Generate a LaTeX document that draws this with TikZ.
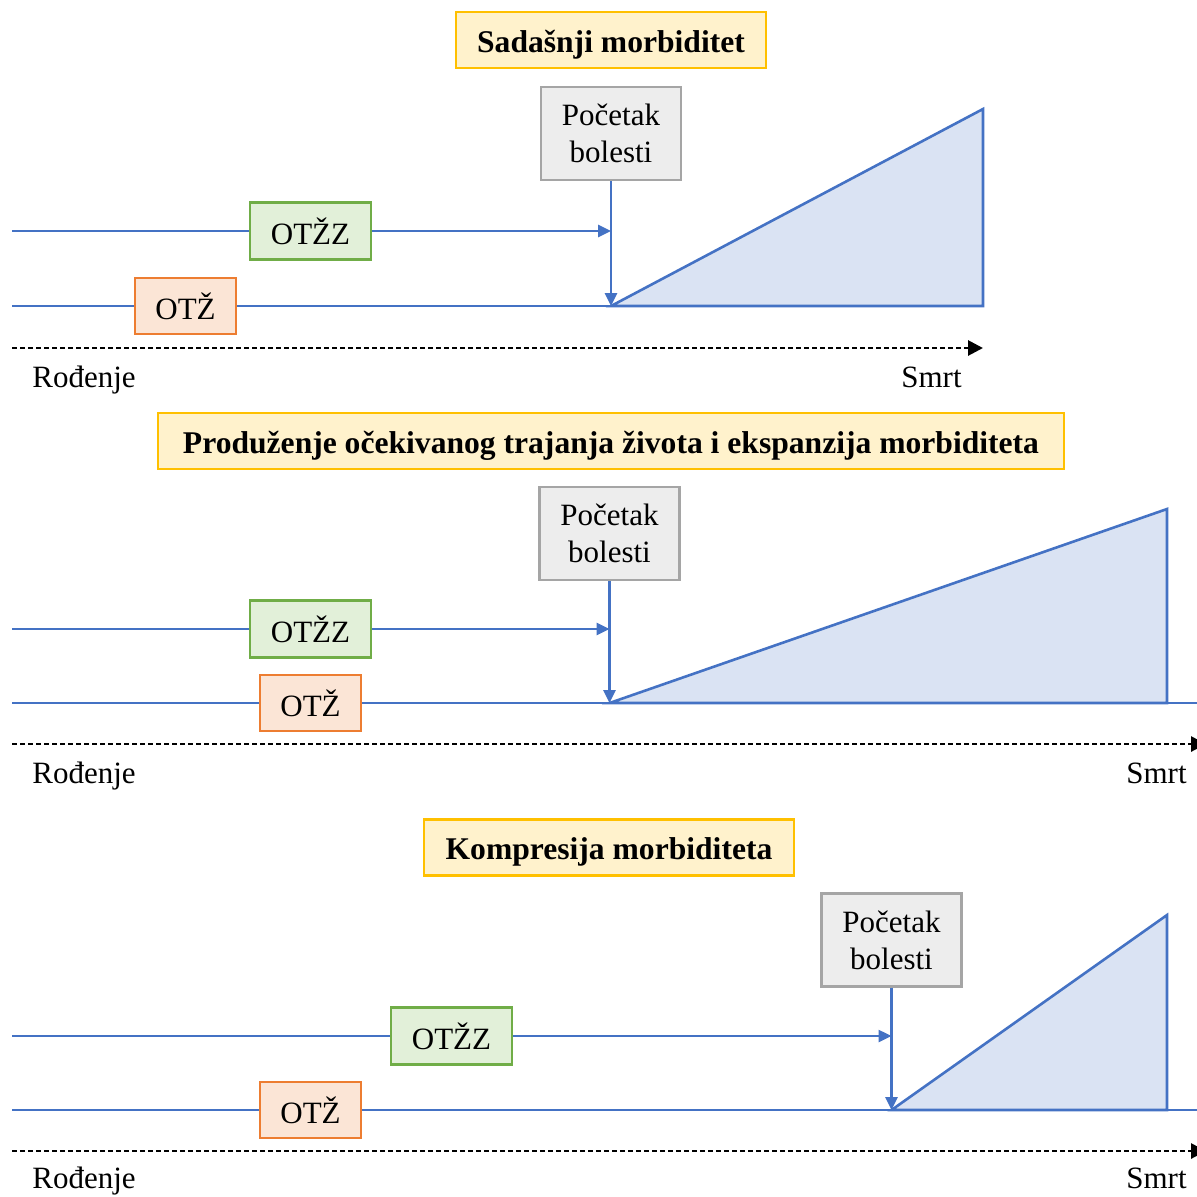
\documentclass[tikz,border=0pt]{standalone}
\usepackage{fontspec}
\setmainfont{Liberation Serif}
\usetikzlibrary{arrows.meta}
\definecolor{lineblue}{HTML}{4472C4}
\definecolor{morbfill}{HTML}{DAE3F3}
\definecolor{titlegold}{HTML}{FFC000}
\definecolor{titlefill}{HTML}{FFF2CC}
\definecolor{onsetgray}{HTML}{A5A5A5}
\definecolor{onsetfill}{HTML}{EDEDED}
\definecolor{healthgreen}{HTML}{70AD47}
\definecolor{healthfill}{HTML}{E2F0D9}
\definecolor{lifeorange}{HTML}{ED7D31}
\definecolor{lifefill}{HTML}{FBE5D6}

\begin{document}
\begin{tikzpicture}[
		x=0.5pt,y=-0.5pt,
		every node/.style={font=\fontsize{15.5}{18.5}\selectfont,inner sep=0pt},
		titlebox/.style={draw=titlegold,fill=titlefill,line width=1.2pt,minimum height=28pt,text height=12pt,text depth=0pt,font=\fontsize{15.8}{18.5}\selectfont\bfseries},
		onsetbox/.style={draw=onsetgray,fill=onsetfill,line width=1.2pt,minimum width=70pt,minimum height=46.5pt,align=center},
		healthbox/.style={draw=healthgreen,fill=healthfill,line width=1.2pt,minimum width=60.5pt,minimum height=28.5pt},
		lifebox/.style={draw=lifeorange,fill=lifefill,line width=1.2pt,minimum width=50.5pt,minimum height=28pt},
		timeline/.style={lineblue,line width=1.3pt},
		onsetarrow/.style={timeline,-{Triangle[length=6.5pt,width=6pt]}},
		morbidity/.style={draw=lineblue,fill=morbfill,line width=1.3pt},
		lifeaxis/.style={black,line width=1.4pt,dash pattern=on 2.6pt off 1.4pt,-{Triangle[length=7.5pt,width=7.5pt]}}
		]
		\useasboundingbox (0,0) rectangle (1197,1196);
		\clip (0,0) rectangle (1197,1196);
		
		\node[titlebox,minimum width=155pt] (title1) at (611,40) {Sadašnji morbiditet};
		\node[onsetbox] (onset1) at (611,133.5) {Početak\\bolesti};
		\node[healthbox] (health1) at (310.5,231) {OTŽZ};
		\node[lifebox] (life1) at (185.5,306) {OTŽ};
		\coordinate (hstart1) at (12,231);
		\coordinate (lstart1) at (12,306);
		\coordinate (hit1) at (611,231);
		\coordinate (sick1) at (611,306);
		\coordinate (peak1) at (983,109);
		\coordinate (end1) at (983,306);
		\coordinate (birth1) at (12,348);
		\coordinate (death1) at (983,348);
		\draw[morbidity] (sick1) -- (peak1) -- (end1) -- cycle;
		\draw[timeline] (hstart1) -- (health1);
		\draw[onsetarrow] (health1) -- (hit1);
		\draw[timeline] (lstart1) -- (life1);
		\draw[timeline] (life1) -- (sick1);
		\draw[onsetarrow] (onset1) -- (sick1);
		\draw[lifeaxis] (birth1) -- (death1);
		\node[anchor=base west] (born1) at (32,387) {Rođenje};
		\node[anchor=base east] (died1) at (962,387) {Smrt};
		
		\node[titlebox,minimum width=453pt] (title2) at (611,441) {Produženje očekivanog trajanja života i ekspanzija morbiditeta};
		\node[onsetbox] (onset2) at (609.5,533.5) {Početak\\bolesti};
		\node[healthbox] (health2) at (310.5,629) {OTŽZ};
		\node[lifebox] (life2) at (310.5,703) {OTŽ};
		\coordinate (hstart2) at (12,629);
		\coordinate (lstart2) at (12,703);
		\coordinate (hit2) at (609.5,629);
		\coordinate (sick2) at (609.5,703);
		\coordinate (peak2) at (1167,509);
		\coordinate (end2) at (1167,703);
		\coordinate (edge2) at (1200,703);
		\coordinate (birth2) at (12,744);
		\coordinate (death2) at (1206,744);
		\draw[morbidity] (sick2) -- (peak2) -- (end2) -- cycle;
		\draw[timeline] (hstart2) -- (health2);
		\draw[onsetarrow] (health2) -- (hit2);
		\draw[timeline] (lstart2) -- (life2);
		\draw[timeline] (life2) -- (sick2);
		\draw[timeline] (end2) -- (edge2);
		\draw[onsetarrow] (onset2) -- (sick2);
		\draw[lifeaxis] (birth2) -- (death2);
		\node[anchor=base west] (born2) at (32,783) {Rođenje};
		\node[anchor=base east] (died2) at (1187,783) {Smrt};
		
		\node[titlebox,minimum width=185pt] (title3) at (609,847.5) {Kompresija morbiditeta};
		\node[onsetbox] (onset3) at (891.5,940) {Početak\\bolesti};
		\node[healthbox] (health3) at (451.5,1036) {OTŽZ};
		\node[lifebox] (life3) at (310.5,1110) {OTŽ};
		\coordinate (hstart3) at (12,1036);
		\coordinate (lstart3) at (12,1110);
		\coordinate (hit3) at (891.5,1036);
		\coordinate (sick3) at (891.5,1110);
		\coordinate (peak3) at (1167,915);
		\coordinate (end3) at (1167,1110);
		\coordinate (edge3) at (1200,1110);
		\coordinate (birth3) at (12,1151);
		\coordinate (death3) at (1206,1151);
		\draw[morbidity] (sick3) -- (peak3) -- (end3) -- cycle;
		\draw[timeline] (hstart3) -- (health3);
		\draw[onsetarrow] (health3) -- (hit3);
		\draw[timeline] (lstart3) -- (life3);
		\draw[timeline] (life3) -- (sick3);
		\draw[timeline] (end3) -- (edge3);
		\draw[onsetarrow] (onset3) -- (sick3);
		\draw[lifeaxis] (birth3) -- (death3);
		\node[anchor=base west] (born3) at (32,1188) {Rođenje};
		\node[anchor=base east] (died3) at (1187,1188) {Smrt};
		\end{tikzpicture}
\end{document}
